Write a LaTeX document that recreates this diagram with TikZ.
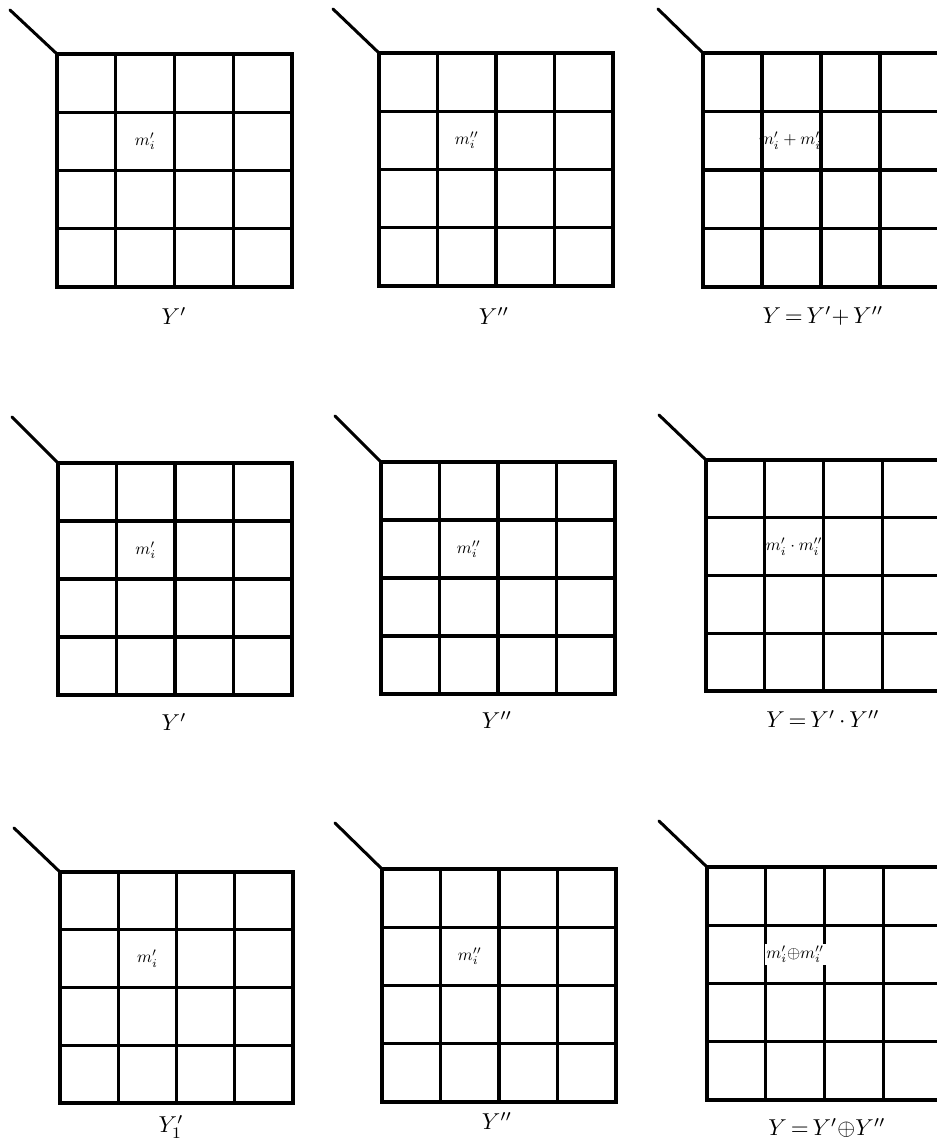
\documentclass[tikz,border=0pt]{standalone}
\tikzset{
  gridline/.style={line width=3.1pt, line cap=rect},
  diagline/.style={line width=3pt, line cap=round},
  celltext/.style={scale=1.7, inner sep=1pt},
  maplabel/.style={scale=2.3, inner sep=0pt},
}
% name, left, top, width, height, tail x, tail y
\newcommand\kmap[7]{%
  \coordinate (#1-nw) at (#2,#3);
  \coordinate (#1-tail) at (#6,#7);
  \coordinate (#1-c) at ({#2+#4*0.375},{#3+#5*0.375});
  \foreach \k in {0,...,4}{
    \draw[gridline] ({#2+\k*#4/4},#3) -- ({#2+\k*#4/4},{#3+#5});
    \draw[gridline] (#2,{#3+\k*#5/4}) -- ({#2+#4},{#3+\k*#5/4});
  }
  \draw[diagline] (#1-tail) -- (#1-nw);
}
\begin{document}
\begin{tikzpicture}[x=1pt,y=-1pt]
\useasboundingbox (0,0) rectangle (937,1144);
\fill[white] (0,0) rectangle (937,1144);
\clip (0,0) rectangle (937,1144);

% row 1
\kmap{g11}{57}{54}{235}{233}{10}{10}
\kmap{g12}{379}{53}{234}{233}{333}{9}
\kmap{g13}{703}{53}{236}{234}{658}{9}
\node[celltext] (t11) at (g11-c) {$m'_i$};
\node[celltext] (t12) at (g12-c) {$m''_i$};
\node[celltext] (t13) at (g13-c) {$m'_i+m''_i$};
\node[maplabel] (l11) at (174,316) {$Y'$};
\node[maplabel] (l12) at (494,316) {$Y''$};
\node[maplabel] (l13) at (823,316) {$Y\,{=}\,Y'{+}\,Y''$};

% row 2
\kmap{g21}{58}{463}{234}{232}{12}{417}
\kmap{g22}{381}{462}{234}{232}{335}{416}
\kmap{g23}{706}{460}{235}{231}{659}{415}
\node[celltext] (t21) at (g21-c) {$m'_i$};
\node[celltext] (t22) at (g22-c) {$m''_i$};
\node[celltext] (t23) at (g23-c) {$m'_i\cdot m''_i$};
\node[maplabel] (l21) at (174,722) {$Y'$};
\node[maplabel] (l22) at (497,720) {$Y''$};
\node[maplabel] (l23) at (823,719) {$Y\,{=}\,Y'\,{\cdot}\,Y''$};

% row 3
\kmap{g31}{60}{872}{233}{231}{14}{828}
\kmap{g32}{382}{869}{234}{233}{335}{823}
\kmap{g33}{707}{867}{235}{233}{659}{821}
\node[celltext] (t31) at (g31-c) {$m'_i$};
\node[celltext] (t32) at (g32-c) {$m''_i$};
\node[celltext, fill=white] (t33) at (g33-c) {$m'_i{\oplus}m''_i$};
\node[maplabel] (l31) at (171,1127) {$Y'_1$};
\node[maplabel] (l32) at (497,1121) {$Y''$};
\node[maplabel] (l33) at (827,1128) {$Y\,{=}\,Y'{\oplus}Y''$};
\end{tikzpicture}
\end{document}
